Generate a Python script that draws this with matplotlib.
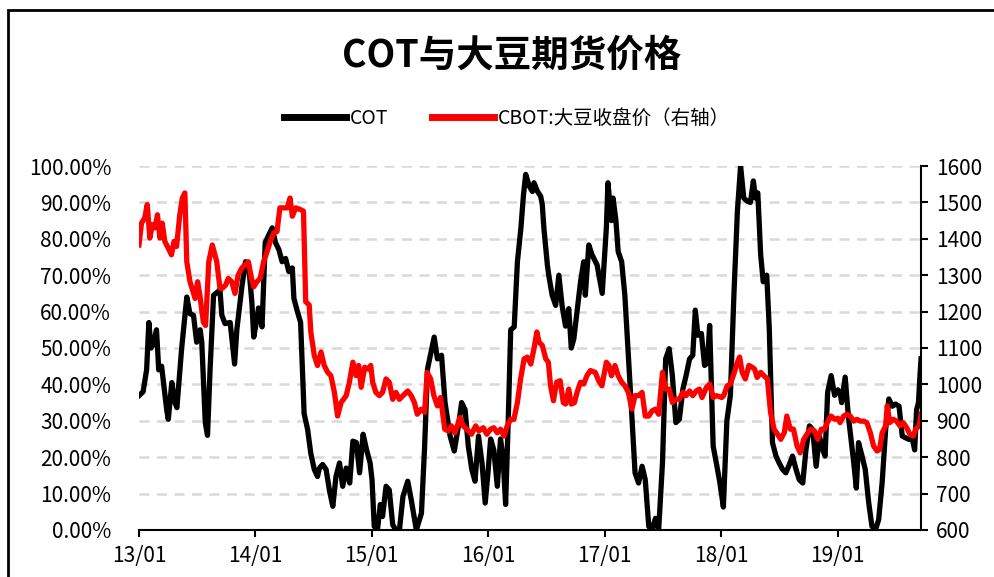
import matplotlib
matplotlib.use("Agg")
import matplotlib.pyplot as plt
from matplotlib.patches import Rectangle
from matplotlib.ticker import FuncFormatter, MultipleLocator
import pandas as pd

plt.rcParams['font.family'] = ['Noto Sans CJK SC', 'DejaVu Sans']

# COT index (%)
cot_dates = [
    "2013-01-01", "2013-01-14", "2013-01-25", "2013-02-01", "2013-02-08", "2013-02-15", "2013-02-25",
    "2013-03-04", "2013-03-13", "2013-03-29", "2013-04-03", "2013-04-14", "2013-04-24", "2013-04-30",
    "2013-05-15", "2013-05-31", "2013-06-10", "2013-06-21", "2013-07-01", "2013-07-12", "2013-07-17",
    "2013-07-28", "2013-08-04", "2013-08-12", "2013-08-23", "2013-09-05", "2013-09-12", "2013-09-18",
    "2013-09-28", "2013-10-14", "2013-10-28", "2013-11-04", "2013-11-20", "2013-12-01", "2013-12-11",
    "2013-12-21", "2013-12-27", "2014-01-04", "2014-01-11", "2014-01-22", "2014-02-01", "2014-02-12",
    "2014-02-23", "2014-03-05", "2014-03-16", "2014-03-26", "2014-04-06", "2014-04-16", "2014-04-27",
    "2014-05-02", "2014-05-13", "2014-05-23", "2014-06-03", "2014-06-14", "2014-06-24", "2014-07-05",
    "2014-07-15", "2014-07-21", "2014-07-31", "2014-08-11", "2014-08-22", "2014-09-01", "2014-09-11",
    "2014-09-22", "2014-10-02", "2014-10-13", "2014-10-24", "2014-11-03", "2014-11-14", "2014-11-24",
    "2014-12-05", "2014-12-16", "2014-12-27", "2015-01-02", "2015-01-09", "2015-01-19", "2015-01-28",
    "2015-02-04", "2015-02-15", "2015-02-25", "2015-03-08", "2015-03-18", "2015-03-29", "2015-04-09",
    "2015-04-24", "2015-05-05", "2015-05-21", "2015-06-06", "2015-06-16", "2015-06-25", "2015-07-07",
    "2015-07-16", "2015-07-26", "2015-08-08", "2015-08-19", "2015-09-04", "2015-09-17", "2015-09-30",
    "2015-10-10", "2015-10-21", "2015-10-31", "2015-11-11", "2015-11-21", "2015-12-02", "2015-12-13",
    "2015-12-23", "2016-01-01", "2016-01-09", "2016-01-19", "2016-01-30", "2016-02-09", "2016-02-17",
    "2016-02-25", "2016-03-04", "2016-03-12", "2016-03-23", "2016-04-02", "2016-04-13", "2016-04-21",
    "2016-04-28", "2016-05-09", "2016-05-19", "2016-05-24", "2016-06-04", "2016-06-14", "2016-06-19",
    "2016-06-24", "2016-07-05", "2016-07-10", "2016-07-20", "2016-07-31", "2016-08-10", "2016-08-20",
    "2016-08-31", "2016-09-10", "2016-09-18", "2016-09-26", "2016-10-06", "2016-10-17", "2016-10-27",
    "2016-11-01", "2016-11-12", "2016-11-22", "2016-12-08", "2016-12-24", "2017-01-06", "2017-01-11",
    "2017-01-22", "2017-01-27", "2017-02-05", "2017-02-12", "2017-02-23", "2017-03-05", "2017-03-16",
    "2017-03-27", "2017-04-06", "2017-04-17", "2017-04-28", "2017-05-08", "2017-05-19", "2017-05-29",
    "2017-06-09", "2017-06-19", "2017-07-01", "2017-07-11", "2017-07-22", "2017-08-01", "2017-08-12",
    "2017-08-23", "2017-09-03", "2017-09-13", "2017-09-24", "2017-10-04", "2017-10-12", "2017-10-20",
    "2017-10-31", "2017-11-10", "2017-11-19", "2017-11-26", "2017-12-07", "2017-12-17", "2017-12-28",
    "2018-01-08", "2018-01-19", "2018-01-30", "2018-02-10", "2018-02-21", "2018-03-03", "2018-03-13",
    "2018-03-24", "2018-04-03", "2018-04-12", "2018-04-19", "2018-04-26", "2018-05-05", "2018-05-13",
    "2018-05-24", "2018-06-01", "2018-06-11", "2018-06-22", "2018-07-02", "2018-07-13", "2018-07-23",
    "2018-08-03", "2018-08-13", "2018-08-24", "2018-09-03", "2018-09-14", "2018-09-24", "2018-10-05",
    "2018-10-15", "2018-10-26", "2018-11-05", "2018-11-16", "2018-11-23", "2018-12-01", "2018-12-12",
    "2018-12-23", "2019-01-02", "2019-01-09", "2019-01-14", "2019-01-25", "2019-02-04", "2019-02-10",
    "2019-02-21", "2019-03-01", "2019-03-08", "2019-03-19", "2019-03-29", "2019-04-09", "2019-04-19",
    "2019-04-30", "2019-05-10", "2019-05-21", "2019-06-01", "2019-06-11", "2019-06-22", "2019-07-02",
    "2019-07-13", "2019-07-23", "2019-08-03", "2019-08-13", "2019-08-24", "2019-08-31", "2019-09-06",
    "2019-09-12", "2019-09-16", "2019-09-20",
]
cot_values = [
    36.9, 38, 44, 57, 50, 51, 55,
    44, 45, 33, 30.4, 40.5, 35, 33.6,
    50, 64, 59.4, 59, 51.6, 55, 51.6,
    29.5, 26, 44, 64.5, 65.4, 66, 59,
    56.7, 57, 45.6, 55, 67, 73.7, 72.8,
    62.7, 53, 57, 61, 55.8, 79, 81,
    83, 79, 77, 73.7, 74.6, 71, 72,
    63.6, 60, 57, 32, 27.6, 21, 16.6,
    14.7, 17, 18, 16.6, 10.6, 6.5, 14.7,
    18.4, 12, 17, 12.9, 24.4, 24, 15.7,
    26.3, 22, 18.4, 13.8, 1, 0, 7,
    3.7, 12, 11, 1.4, 0, 0, 9.2,
    13.4, 8.3, 0, 4.6, 23, 44.2, 49.3,
    53, 47, 48, 35, 25.8, 21.7, 28.6,
    35, 33, 23, 16.6, 13.4, 25.8, 18.4,
    7.4, 16, 25, 22, 12, 25, 20,
    7, 29.5, 55, 55.8, 73.7, 83, 92,
    97.7, 94.5, 93, 95.4, 93, 91.7, 89.4,
    83, 72.8, 69.6, 64.5, 61.7, 70, 61.7,
    56, 60.8, 50, 52.5, 60, 68.2, 73.7,
    64.5, 78.3, 75.6, 72.8, 65, 83, 95.4,
    85, 91.2, 85, 76.5, 73.7, 64.5, 48,
    31.3, 15.7, 12.9, 17.5, 13.8, 1, 0,
    3.2, 0, 18.4, 47, 49.8, 42.4, 29.5,
    30.4, 38.7, 42.4, 47, 48, 60.4, 53.5,
    54, 45.2, 46, 56.2, 23, 18.4, 13,
    6.3, 30, 37, 64.5, 87.6, 100, 91.2,
    90.3, 90, 95.9, 91.2, 92.6, 75.6, 68.2,
    70, 55.3, 24, 20.3, 18.4, 16.6, 15.7,
    18, 20.3, 16.6, 13.8, 12.9, 22, 28.6,
    27.6, 17.5, 25.8, 22, 20.3, 37.8, 42.4,
    37, 38.5, 37.8, 35, 42, 31.3, 26.7,
    18.4, 11.5, 24, 20.3, 16.6, 7.4, 1,
    0, 2.8, 13, 27.6, 36, 34, 34.6,
    34, 25.8, 25.3, 24.9, 24.9, 22, 33,
    35, 41.5, 47,
]

# CBOT soybean close (right axis)
cbot_dates = [
    "2013-01-01", "2013-01-09", "2013-01-19", "2013-01-27", "2013-02-04", "2013-02-12", "2013-02-20",
    "2013-02-28", "2013-03-08", "2013-03-15", "2013-03-23", "2013-04-03", "2013-04-13", "2013-04-21",
    "2013-04-29", "2013-05-09", "2013-05-17", "2013-05-25", "2013-05-31", "2013-06-10", "2013-06-20",
    "2013-06-26", "2013-07-04", "2013-07-11", "2013-07-22", "2013-07-29", "2013-08-08", "2013-08-19",
    "2013-09-02", "2013-09-12", "2013-09-19", "2013-09-30", "2013-10-08", "2013-10-19", "2013-10-29",
    "2013-11-08", "2013-11-19", "2013-11-29", "2013-12-10", "2013-12-20", "2013-12-27", "2014-01-06",
    "2014-01-16", "2014-01-27", "2014-02-07", "2014-02-17", "2014-02-28", "2014-03-10", "2014-03-19",
    "2014-04-01", "2014-04-11", "2014-04-20", "2014-04-27", "2014-05-08", "2014-05-23", "2014-06-01",
    "2014-06-08", "2014-06-19", "2014-06-24", "2014-07-05", "2014-07-15", "2014-07-26", "2014-08-05",
    "2014-08-16", "2014-08-26", "2014-09-06", "2014-09-16", "2014-09-27", "2014-10-13", "2014-10-23",
    "2014-11-03", "2014-11-13", "2014-11-21", "2014-11-29", "2014-12-10", "2014-12-21", "2014-12-29",
    "2015-01-04", "2015-01-14", "2015-01-25", "2015-02-04", "2015-02-15", "2015-02-25", "2015-03-08",
    "2015-03-18", "2015-03-29", "2015-04-09", "2015-04-24", "2015-05-05", "2015-05-15", "2015-05-24",
    "2015-06-05", "2015-06-16", "2015-06-24", "2015-07-05", "2015-07-15", "2015-07-26", "2015-08-05",
    "2015-08-18", "2015-08-29", "2015-09-08", "2015-09-19", "2015-10-05", "2015-10-15", "2015-10-26",
    "2015-11-10", "2015-11-23", "2015-12-03", "2015-12-17", "2015-12-28", "2016-01-09", "2016-01-19",
    "2016-01-30", "2016-02-09", "2016-02-20", "2016-03-01", "2016-03-12", "2016-03-22", "2016-04-02",
    "2016-04-12", "2016-04-23", "2016-05-03", "2016-05-14", "2016-05-24", "2016-06-02", "2016-06-09",
    "2016-06-19", "2016-06-30", "2016-07-08", "2016-07-15", "2016-07-24", "2016-08-03", "2016-08-14",
    "2016-08-24", "2016-08-31", "2016-09-10", "2016-09-18", "2016-09-28", "2016-10-06", "2016-10-17",
    "2016-10-27", "2016-11-06", "2016-11-17", "2016-12-02", "2016-12-13", "2016-12-23", "2017-01-06",
    "2017-01-14", "2017-01-22", "2017-02-02", "2017-02-12", "2017-02-23", "2017-03-05", "2017-03-16",
    "2017-03-27", "2017-04-06", "2017-04-17", "2017-04-28", "2017-05-08", "2017-05-19", "2017-05-29",
    "2017-06-09", "2017-06-19", "2017-07-01", "2017-07-11", "2017-07-22", "2017-08-01", "2017-08-12",
    "2017-08-23", "2017-09-03", "2017-09-13", "2017-09-24", "2017-10-04", "2017-10-15", "2017-10-25",
    "2017-11-02", "2017-11-16", "2017-11-26", "2017-12-07", "2017-12-17", "2018-01-03", "2018-01-09",
    "2018-01-20", "2018-01-30", "2018-02-10", "2018-02-21", "2018-02-28", "2018-03-08", "2018-03-18",
    "2018-03-29", "2018-04-09", "2018-04-16", "2018-04-24", "2018-05-05", "2018-05-15", "2018-05-26",
    "2018-06-05", "2018-06-16", "2018-06-27", "2018-07-07", "2018-07-18", "2018-07-26", "2018-08-06",
    "2018-08-16", "2018-08-27", "2018-09-06", "2018-09-17", "2018-09-27", "2018-10-08", "2018-10-21",
    "2018-10-31", "2018-11-11", "2018-11-21", "2018-12-02", "2018-12-12", "2018-12-23", "2019-01-02",
    "2019-01-09", "2019-01-20", "2019-01-30", "2019-02-10", "2019-02-21", "2019-03-03", "2019-03-13",
    "2019-03-24", "2019-04-03", "2019-04-14", "2019-04-24", "2019-05-05", "2019-05-13", "2019-05-21",
    "2019-06-01", "2019-06-06", "2019-06-14", "2019-06-25", "2019-07-05", "2019-07-16", "2019-07-26",
    "2019-08-06", "2019-08-16", "2019-08-27", "2019-09-03", "2019-09-14", "2019-09-20",
]
cbot_values = [
    1383, 1443, 1457, 1494, 1402, 1439, 1430,
    1466, 1402, 1443, 1393, 1374, 1356, 1393,
    1379, 1466, 1512, 1526, 1337, 1282, 1254,
    1236, 1282, 1245, 1171, 1162, 1337, 1383,
    1337, 1264, 1264, 1273, 1291, 1282, 1250,
    1300, 1319, 1328, 1337, 1291, 1268, 1282,
    1291, 1337, 1365, 1393, 1416, 1420, 1485,
    1485, 1485, 1512, 1462, 1485, 1480, 1476,
    1227, 1218, 1144, 1079, 1052, 1089, 1052,
    1033, 1024, 978, 913, 950, 969, 1006,
    1061, 1024, 1052, 992, 1047, 1042, 1052,
    1006, 978, 969, 978, 1015, 1006, 959,
    978, 959, 969, 982, 969, 950, 918,
    932, 923, 1033, 1015, 969, 941, 964,
    877, 872, 886, 867, 909, 886, 877,
    863, 886, 872, 881, 863, 877, 881,
    867, 877, 858, 886, 904, 904, 950,
    1015, 1070, 1075, 1056, 1098, 1144, 1116,
    1107, 1070, 1061, 996, 955, 1006, 1010,
    950, 946, 987, 946, 950, 978, 1006,
    1001, 1024, 1038, 1033, 1010, 996, 1061,
    1052, 1024, 1052, 1024, 1006, 996, 978,
    932, 969, 969, 978, 913, 913, 927,
    932, 918, 1033, 987, 987, 950, 959,
    959, 978, 969, 982, 969, 982, 987,
    964, 992, 1001, 964, 969, 964, 969,
    996, 1001, 1029, 1061, 1075, 1033, 1015,
    1052, 1047, 1042, 1019, 1033, 1024, 1015,
    923, 877, 863, 849, 867, 913, 877,
    877, 831, 812, 849, 863, 877, 872,
    849, 877, 877, 899, 913, 904, 907,
    895, 913, 918, 913, 899, 904, 899,
    899, 895, 867, 831, 817, 821, 867,
    886, 941, 895, 904, 899, 886, 895,
    881, 863, 858, 877, 886, 918,
]

year_ticks = ["2013-01-01", "2014-01-01", "2015-01-01", "2016-01-01",
              "2017-01-01", "2018-01-01", "2019-01-01"]
year_labels = ["13/01", "14/01", "15/01", "16/01", "17/01", "18/01", "19/01"]

cot_x = pd.to_datetime(cot_dates)
cbot_x = pd.to_datetime(cbot_dates)

fig = plt.figure(figsize=(9.94, 5.77), dpi=100)
ax = fig.add_axes([0.1398, 0.0815, 0.7868, 0.6308])
ax2 = ax.twinx()

line1, = ax.plot(cot_x, cot_values, color="black", lw=3.8, solid_joinstyle="round", label="COT")
line2, = ax2.plot(cbot_x, cbot_values, color="#ff0000", lw=3.8, solid_joinstyle="round",
                  label="CBOT:大豆收盘价（右轴）")

ax.set_ylim(0, 100)
ax2.set_ylim(600, 1600)
ax.set_xlim(pd.Timestamp("2013-01-01"), pd.Timestamp("2019-09-20"))

ax.yaxis.set_major_locator(MultipleLocator(10))
ax.yaxis.set_major_formatter(FuncFormatter(lambda v, p: "%.2f%%" % v))
ax2.yaxis.set_major_locator(MultipleLocator(100))

ax.set_xticks(pd.to_datetime(year_ticks))
ax.set_xticklabels(year_labels)

for y in range(10, 101, 10):
    ax.axhline(y, color="#d9d9d9", lw=1.8, dashes=(4, 3), zorder=0)

for a in (ax, ax2):
    a.spines["top"].set_visible(False)
    a.spines["left"].set_visible(False)
ax.spines["right"].set_visible(False)
ax.spines["bottom"].set_linewidth(1.5)
ax2.spines["right"].set_linewidth(1.5)
ax2.spines["bottom"].set_visible(False)

ax.tick_params(axis="y", length=0, labelsize=15, pad=20)
ax.tick_params(axis="x", direction="out", length=5, width=1.5, labelsize=15, pad=6)
ax2.tick_params(axis="y", direction="out", length=5, width=1.5, labelsize=15, pad=6)

fig.text(0.515, 0.905, "COT与大豆期货价格", ha="center", va="center",
         fontsize=27, fontweight="bold")

leg = fig.legend(handles=[line1, line2], loc="center", bbox_to_anchor=(0.51, 0.795),
                 ncol=2, frameon=False, fontsize=14, handlelength=3.2, handletextpad=0.2,
                 columnspacing=2.2)
for h in leg.get_lines():
    h.set_linewidth(5)

fig.patches.append(Rectangle((8 / 994, -0.1), 1.2, 1.1 - 10 / 577,
                             transform=fig.transFigure, fill=False,
                             edgecolor="black", lw=2, clip_on=False))

fig.savefig("out.png", dpi=100)
